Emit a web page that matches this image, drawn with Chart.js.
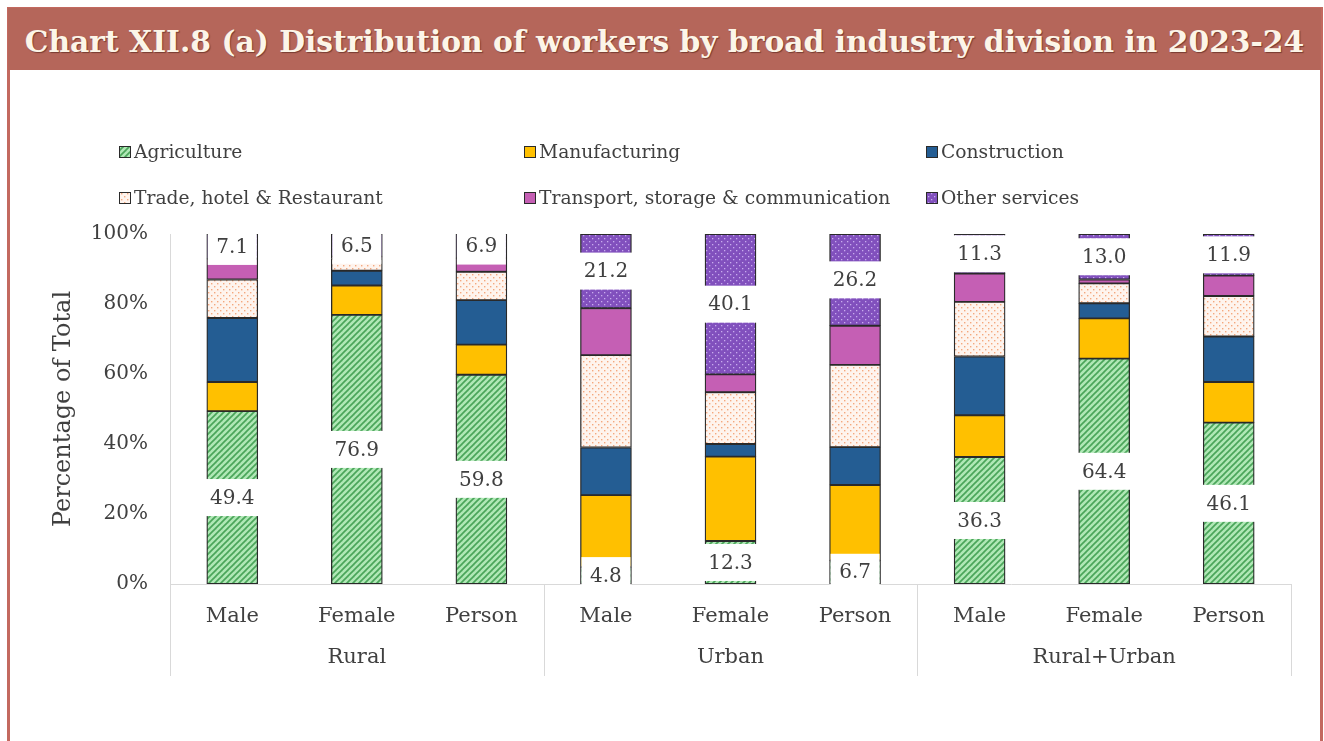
<!DOCTYPE html>
<html>
<head>
<meta charset="utf-8">
<script src="https://cdn.jsdelivr.net/npm/chart.js@4.4.1/dist/chart.umd.min.js"></script>
<style>
  body { margin: 0; background: #fff; width: 1324px; height: 741px; overflow: hidden; position: relative; }
  #frame { position: absolute; left: 7px; top: 7px; width: 1310px; height: 760px; border: 3px solid #c3695f; }
  #title { position: absolute; left: 8px; top: 8px; width: 1313px; height: 62px; background: #b5665a;
           color: #fcf5e8; font-weight: bold; font-family: 'DejaVu Serif', serif; line-height: 68px;
           overflow: hidden; text-align: center; white-space: nowrap;
           text-shadow: 1px 1px 1px rgba(70, 25, 15, 0.55); }
  #chart { position: absolute; left: 0; top: 72px; }
</style>
</head>
<body>
<div id="frame"></div>
<div id="title">Chart XII.8 (a) Distribution of workers by broad industry division in 2023-24</div>
<canvas id="chart" width="1324" height="669"></canvas>
<script>
// categories and groups
const categories = ['Male', 'Female', 'Person', 'Male', 'Female', 'Person', 'Male', 'Female', 'Person'];
const groups = ['Rural', 'Urban', 'Rural+Urban'];
const seriesNames = ['Agriculture', 'Manufacturing', 'Construction', 'Trade, hotel & Restaurant',
                     'Transport, storage & communication', 'Other services'];

// share of workers (%), Rural M/F/P, Urban M/F/P, Rural+Urban M/F/P
const agriculture   = [49.4, 76.9, 59.8, 4.8, 12.3, 6.7, 36.3, 64.4, 46.1];
const manufacturing = [8.3, 8.4, 8.6, 20.6, 24.1, 21.6, 11.9, 11.5, 11.6];
const construction  = [18.3, 4.2, 12.7, 13.6, 3.6, 10.8, 16.8, 4.3, 13.0];
const trade         = [11.0, 3.5, 8.1, 26.4, 14.8, 23.5, 15.6, 5.7, 11.6];
const transport     = [5.9, 0.5, 3.9, 13.4, 5.1, 11.2, 8.1, 1.1, 5.8];
const otherServices = [7.1, 6.5, 6.9, 21.2, 40.1, 26.2, 11.3, 13.0, 11.9];

const yTicks = [0, 20, 40, 60, 80, 100];
const labelledSeries = [0, 5]; // agriculture and other services carry value boxes

const FONT = "'DejaVu Serif', serif";
const TEXT = '#404040';

// fit the title to the bar width
const titleEl = document.getElementById('title');
(function fitTitle() {
    const m = document.createElement('canvas').getContext('2d');
    let size = 30;
    m.font = `bold ${size}px ${FONT}`;
    while (m.measureText(titleEl.textContent).width > 1285 && size > 10) {
        size -= 0.25;
        m.font = `bold ${size}px ${FONT}`;
    }
    titleEl.style.fontSize = size + 'px';
})();

const canvas = document.getElementById('chart');
const ctx = canvas.getContext('2d');

// small tiles for the hatched / dotted fills
function makePattern(bg, draw) {
    const tile = document.createElement('canvas');
    tile.width = 6; tile.height = 6;
    const g = tile.getContext('2d');
    g.fillStyle = bg;
    g.fillRect(0, 0, 6, 6);
    draw(g);
    return ctx.createPattern(tile, 'repeat');
}

const agriFill = makePattern('#b0e8b6', g => {
    g.strokeStyle = '#4aa55a';
    g.lineWidth = 1.7;
    [[-3, 3, 3, -3], [0, 6, 6, 0], [3, 9, 9, 3]].forEach(([a, b, c, d]) => {
        g.beginPath(); g.moveTo(a, b); g.lineTo(c, d); g.stroke();
    });
});
const tradeFill = makePattern('#fef4ee', g => {
    g.fillStyle = '#f4a87e';
    g.fillRect(1, 1, 1.4, 1.4);
    g.fillRect(4, 4, 1.4, 1.4);
});
const otherFill = makePattern('#8150bd', g => {
    g.fillStyle = '#c8aced';
    g.fillRect(1, 1, 1.3, 1.3);
    g.fillRect(4, 4, 1.3, 1.3);
});

const fills = [agriFill, '#ffc000', '#245d93', tradeFill, '#c55fb4', otherFill];
const seriesData = [agriculture, manufacturing, construction, trade, transport, otherServices];

const datasets = seriesNames.map((name, i) => ({
    label: name,
    data: seriesData[i],
    backgroundColor: fills[i],
    borderColor: '#2a2a2a',
    borderWidth: 1.3,
    borderSkipped: false,
    barThickness: 51
}));

// white boxes with the values for agriculture and other services
const valueBoxes = {
    id: 'valueBoxes',
    afterDatasetsDraw(chart) {
        const c = chart.ctx;
        c.save();
        c.font = `20px ${FONT}`;
        c.textAlign = 'center';
        c.textBaseline = 'middle';
        labelledSeries.forEach(di => {
            const meta = chart.getDatasetMeta(di);
            meta.data.forEach((bar, i) => {
                const txt = chart.data.datasets[di].data[i].toFixed(1);
                const w = Math.max(c.measureText(txt).width + 12, bar.width - 2);
                const cy = (bar.y + bar.base) / 2;
                c.fillStyle = '#fff';
                c.fillRect(bar.x - w / 2, cy - 18.5, w, 37);
                c.fillStyle = TEXT;
                c.fillText(txt, bar.x, cy + 1);
            });
        });
        c.restore();
    }
};

// second row of category labels and the group dividers
const groupAxis = {
    id: 'groupAxis',
    afterDraw(chart) {
        const x = chart.scales.x;
        const c = chart.ctx;
        const bottom = chart.chartArea.bottom;
        const step = x.getPixelForValue(1) - x.getPixelForValue(0);
        const per = categories.length / groups.length;
        c.save();
        c.strokeStyle = '#d9d9d9';
        c.lineWidth = 1;
        for (let g = 0; g <= groups.length; g++) {
            const px = Math.round(x.getPixelForValue(g * per) - step / 2) + 0.5;
            c.beginPath();
            c.moveTo(px, bottom);
            c.lineTo(px, bottom + 92);
            c.stroke();
        }
        c.font = `21px ${FONT}`;
        c.fillStyle = TEXT;
        c.textAlign = 'center';
        c.textBaseline = 'middle';
        groups.forEach((name, g) => {
            const cx = (x.getPixelForValue(g * per) + x.getPixelForValue(g * per + per - 1)) / 2;
            c.fillText(name, cx, bottom + 74);
        });
        c.restore();
    }
};

// legend in three columns above the plot
const legendGrid = {
    id: 'legendGrid',
    afterDraw(chart) {
        const c = chart.ctx;
        const cols = [119, 524, 926];
        const rows = [80, 126];
        c.save();
        c.font = `18.7px ${FONT}`;
        c.textBaseline = 'middle';
        c.textAlign = 'left';
        chart.data.datasets.forEach((ds, i) => {
            const x = cols[i % 3];
            const y = rows[Math.floor(i / 3)];
            c.fillStyle = ds.backgroundColor;
            c.fillRect(x, y - 6, 12, 12);
            c.strokeStyle = '#2a2a2a';
            c.lineWidth = 1;
            c.strokeRect(x + 0.5, y - 5.5, 11, 11);
            c.fillStyle = TEXT;
            c.fillText(ds.label, x + 15, y + 1);
        });
        c.restore();
    }
};

new Chart(ctx, {
    type: 'bar',
    data: { labels: categories, datasets: datasets },
    options: {
        responsive: false,
        animation: false,
        layout: { padding: { top: 162, right: 33, left: 0, bottom: 0 } },
        plugins: { legend: { display: false }, tooltip: { enabled: false } },
        scales: {
            x: {
                stacked: true,
                grid: { display: false },
                border: { display: true, color: '#d9d9d9' },
                ticks: { color: TEXT, font: { family: FONT, size: 21 }, padding: 12, maxRotation: 0 },
                afterFit: scale => { scale.height = 157; }
            },
            y: {
                stacked: true,
                min: 0,
                max: 100,
                grid: { display: false, drawTicks: false },
                border: { display: true, color: '#d9d9d9' },
                afterBuildTicks: scale => { scale.ticks = yTicks.map(v => ({ value: v })); },
                ticks: {
                    color: TEXT,
                    font: { family: FONT, size: 20 },
                    padding: 22,
                    callback: v => v + '%'
                },
                title: {
                    display: true,
                    text: 'Percentage of Total',
                    color: TEXT,
                    font: { family: FONT, size: 24 },
                    padding: { top: 49, bottom: 0 }
                },
                afterFit: scale => { scale.width = 170; }
            }
        }
    },
    plugins: [valueBoxes, groupAxis, legendGrid]
});
</script>
</body>
</html>
